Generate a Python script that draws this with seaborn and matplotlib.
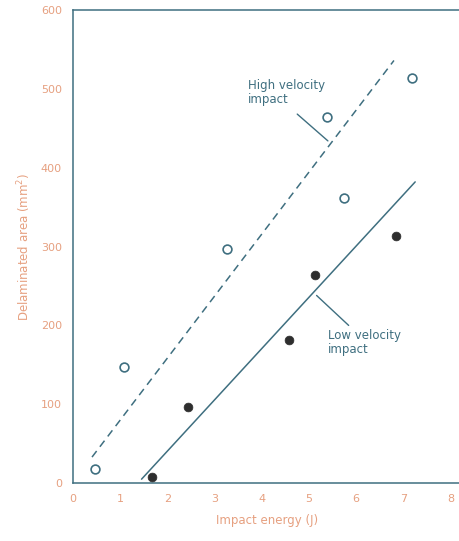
import numpy as np
import pandas as pd
import matplotlib
matplotlib.use('Agg')
import matplotlib.pyplot as plt
import seaborn as sns

# high velocity impact (open circles)
high_energy = [0.47, 1.07, 3.27, 5.38, 5.74, 7.18]
high_area = [18, 147, 297, 464, 362, 514]
# low velocity impact (filled circles)
low_energy = [1.67, 2.44, 4.57, 5.12, 6.85]
low_area = [8, 96, 181, 264, 313]
# fitted lines (end points)
high_fit_x = [0.40, 6.80]
high_fit_y = [33, 536]
low_fit_x = [1.45, 7.25]
low_fit_y = [5, 382]

x_ticks = [0, 1, 2, 3, 4, 5, 6, 7, 8]
y_ticks = [0, 100, 200, 300, 400, 500, 600]

line_col = '#3f6f80'
label_col = '#e6a080'

sns.set_style('white')
plt.rcParams['font.family'] = ['DejaVu Sans']

fig = plt.figure(figsize=(4.6, 5.41), dpi=100)
ax = fig.add_axes([0.159, 0.107, 0.841, 0.8745])

high = pd.DataFrame({'energy': high_energy, 'area': high_area})
low = pd.DataFrame({'energy': low_energy, 'area': low_area})

sns.lineplot(x=high_fit_x, y=high_fit_y, ax=ax, color=line_col, lw=1.1,
             linestyle=(0, (5, 3.5)))
sns.lineplot(x=low_fit_x, y=low_fit_y, ax=ax, color=line_col, lw=1.1)
sns.scatterplot(data=high, x='energy', y='area', ax=ax, s=40,
                facecolor='white', edgecolor=line_col, linewidth=1.2, zorder=3)
sns.scatterplot(data=low, x='energy', y='area', ax=ax, s=40,
                color='#2e2e2e', edgecolor='#2e2e2e', zorder=3)

ax.text(3.7, 512, 'High velocity\nimpact', color=line_col, fontsize=8.5,
        va='top', ha='left', linespacing=1.1)
ax.plot([4.75, 5.4], [468, 434], color=line_col, lw=1)
ax.text(5.41, 195, 'Low velocity\nimpact', color=line_col, fontsize=8.5,
        va='top', ha='left', linespacing=1.1)
ax.plot([5.16, 5.84], [238, 200], color=line_col, lw=1)

ax.set_xlim(0, 8.2)
ax.set_ylim(0, 600)
ax.set_xticks(x_ticks)
ax.set_yticks(y_ticks)
ax.tick_params(direction='in', length=5, width=1, color=line_col,
               labelcolor=label_col, labelsize=8, pad=8)
for side in ['left', 'bottom', 'top']:
    ax.spines[side].set_color(line_col)
    ax.spines[side].set_linewidth(1.1)
ax.spines['right'].set_visible(False)

ax.set_xlabel('Impact energy (J)', color=label_col, fontsize=8.5, labelpad=7)
ax.set_ylabel('Delaminated area (mm$^2$)', color=label_col, fontsize=8.5,
              labelpad=6)

fig.savefig('out.png', dpi=100)
